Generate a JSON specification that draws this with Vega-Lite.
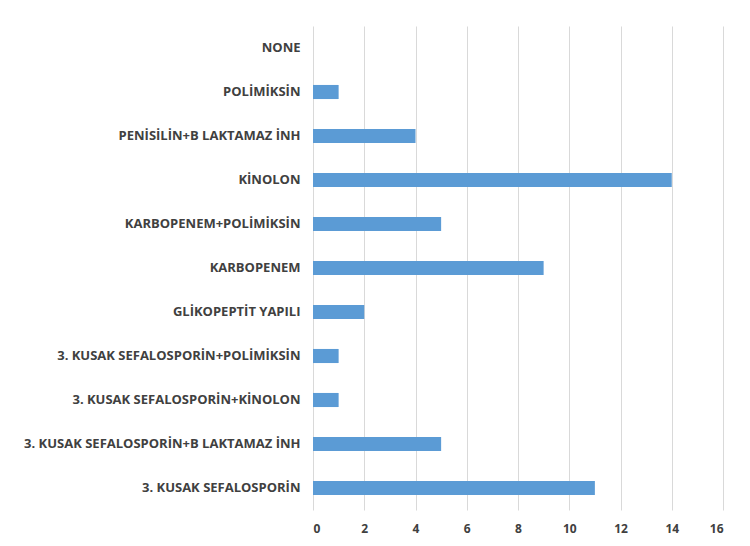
{
  "$schema": "https://vega.github.io/schema/vega-lite/v6.json",
  "width": 410,
  "height": 484,
  "autosize": {"type": "none"},
  "padding": {"left": 313, "top": 26, "right": 27, "bottom": 36},
  "background": "white",
  "config": {"view": {"stroke": null}},
  "data": {
    "values": [
      {"category": "NONE", "value": 0},
      {"category": "POLİMİKSİN", "value": 1},
      {"category": "PENİSİLİN+B LAKTAMAZ İNH", "value": 4},
      {"category": "KİNOLON", "value": 14},
      {"category": "KARBOPENEM+POLİMİKSİN", "value": 5},
      {"category": "KARBOPENEM", "value": 9},
      {"category": "GLİKOPEPTİT YAPILI ", "value": 2},
      {"category": "3. KUSAK SEFALOSPORİN+POLİMİKSİN", "value": 1},
      {"category": "3. KUSAK SEFALOSPORİN+KİNOLON", "value": 1},
      {"category": "3. KUSAK SEFALOSPORİN+B LAKTAMAZ İNH", "value": 5},
      {"category": "3. KUSAK SEFALOSPORİN", "value": 11}
    ]
  },
  "mark": {"type": "bar", "color": "#5b9bd5"},
  "encoding": {
    "y": {
      "field": "category",
      "type": "nominal",
      "sort": null,
      "scale": {"paddingInner": 0.68, "paddingOuter": 0.34},
      "axis": {
        "title": null,
        "domain": false,
        "ticks": false,
        "labelPadding": 13,
        "labelFont": "Open Sans",
        "labelFontWeight": "bold",
        "labelFontSize": 13,
        "labelColor": "#404040",
        "labelLimit": 400
      }
    },
    "x": {
      "field": "value",
      "type": "quantitative",
      "scale": {"domain": [0, 16]},
      "axis": {
        "title": null,
        "values": [0, 2, 4, 6, 8, 10, 12, 14, 16],
        "domain": false,
        "ticks": false,
        "grid": true,
        "gridColor": "#d9d9d9",
        "gridWidth": 1,
        "labelPadding": 13,
        "labelFont": "Open Sans",
        "labelFontWeight": "bold",
        "labelFontSize": 12,
        "labelColor": "#404040"
      }
    }
  }
}
